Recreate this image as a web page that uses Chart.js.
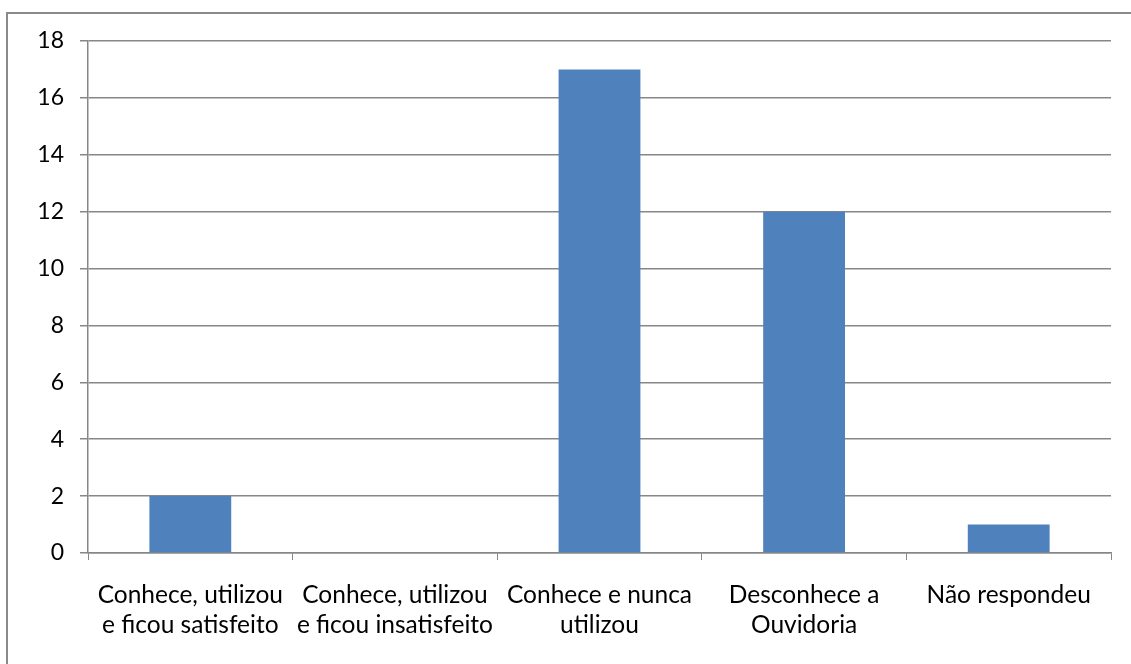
<!DOCTYPE html>
<html>
<head>
<meta charset="utf-8">
<script src="https://cdn.jsdelivr.net/npm/chart.js@4/dist/chart.umd.min.js"></script>
<style>
  html, body { margin: 0; padding: 0; background: #fff; overflow: hidden; }
  #frame {
    position: absolute; left: 6px; top: 12px; width: 1200px; height: 700px;
    border-left: 2px solid #8a8a8a; border-top: 2px solid #8a8a8a;
  }
  #wrap { position: absolute; left: 0; top: 0; width: 1131px; height: 664px; }
</style>
</head>
<body>
<div id="frame"></div>
<div id="wrap"><canvas id="chart"></canvas></div>
<script>
// categories and values
const categories = [
    ['Conhece, utilizou', 'e ficou satisfeito'],
    ['Conhece, utilizou', 'e ficou insatisfeito'],
    ['Conhece e nunca', 'utilizou'],
    ['Desconhece a', 'Ouvidoria'],
    'Não respondeu'
];
const values = [2, 0, 17, 12, 1];
const yMin = 0, yMax = 18, yStep = 2;

const gridColor = '#878787';
const yFont = { family: 'Lato, "Open Sans", sans-serif', size: 23 };
const xFont = { family: 'Lato, "Open Sans", sans-serif', size: 24.5, lineHeight: 1.22 };

const ctx = document.getElementById('chart').getContext('2d');
new Chart(ctx, {
    type: 'bar',
    data: {
        labels: categories,
        datasets: [{
            data: values,
            backgroundColor: '#4F81BD',
            borderWidth: 0,
            categoryPercentage: 0.4,
            barPercentage: 1
        }]
    },
    options: {
        responsive: true,
        maintainAspectRatio: false,
        animation: false,
        layout: { padding: { left: 0, top: 41, right: 20, bottom: 0 } },
        plugins: { legend: { display: false }, tooltip: { enabled: false } },
        scales: {
            x: {
                grid: { display: true, drawOnChartArea: false, drawTicks: true, tickLength: 7, color: gridColor, offset: true },
                border: { display: true, color: gridColor, width: 1.5 },
                ticks: { color: '#000', font: xFont, padding: 20, maxRotation: 0, autoSkip: false },
                afterFit: s => { s.height = 111; }
            },
            y: {
                min: yMin, max: yMax,
                grid: { color: gridColor, lineWidth: 1.5, tickLength: 8 },
                border: { display: true, color: gridColor, width: 1.5 },
                ticks: { stepSize: yStep, color: '#000', font: yFont, padding: 16 },
                afterFit: s => { s.width = 88; }
            }
        }
    }
});
</script>
</body>
</html>
